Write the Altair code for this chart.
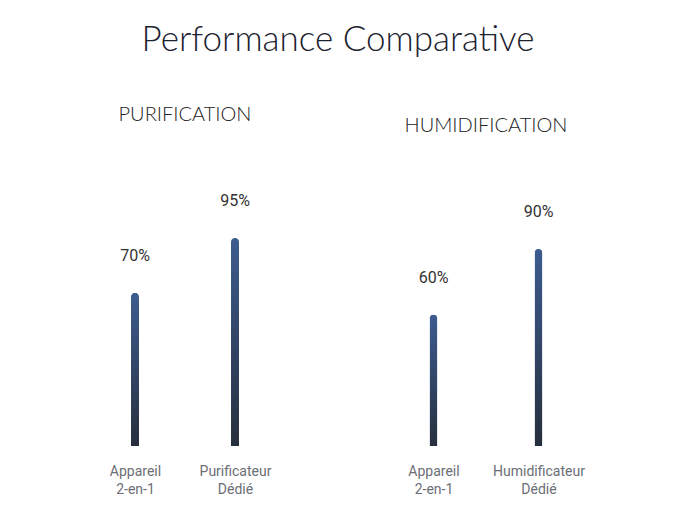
import altair as alt
import pandas as pd

groups = ["PURIFICATION", "PURIFICATION", "HUMIDIFICATION", "HUMIDIFICATION"]
devices = ["Appareil\n2-en-1", "Purificateur\nDédié", "Appareil\n2-en-1", "Humidificateur\nDédié"]
values = [70, 95, 60, 90]
value_labels = ["70%", "95%", "60%", "90%"]

df = pd.DataFrame({"group": groups, "device": devices, "value": values, "label": value_labels})

FONT = "Helvetica Neue, Roboto, Liberation Sans, sans-serif"
TITLE_FONT = "Lato, Roboto, sans-serif"

grad = alt.LinearGradient(
    gradient="linear",
    stops=[alt.GradientStop(offset=0, color="#3d5c90"), alt.GradientStop(offset=1, color="#262f3d")],
    x1=0, x2=0, y1=0, y2=1,
)


def panel(name, width, title_offset):
    d = df[df.group == name]
    base = alt.Chart(d).encode(
        x=alt.X(
            "device:N",
            sort=None,
            scale=alt.Scale(type="point", padding=0.5),
            axis=alt.Axis(
                title=None, domain=False, ticks=False, labelAngle=0,
                labelExpr='split(datum.label, "\\n")',
                labelFontSize=14, labelColor="#6b6e75", labelFont=FONT,
                labelPadding=18, labelLineHeight=18, labelOverlap=False,
            ),
        ),
        y=alt.Y("value:Q", scale=alt.Scale(domain=[0, 100]), axis=None),
    )
    bars = base.mark_bar(size=8, cornerRadiusTopLeft=4, cornerRadiusTopRight=4, color=grad)
    txt = base.mark_text(dy=-37, fontSize=16, color="#333333", font=FONT, baseline="middle").encode(text="label:N")
    return alt.layer(bars, txt).properties(
        width=width,
        height=219,
        title=alt.TitleParams(name, fontSize=20, font=TITLE_FONT, fontWeight=300, color="#222222",
                              offset=title_offset, anchor="middle"),
    )


chart = alt.hconcat(
    panel("PURIFICATION", 200, 68),
    panel("HUMIDIFICATION", 210, 68),
    spacing=96,
).properties(
    title=alt.TitleParams("Performance Comparative", fontSize=35, font=TITLE_FONT, fontWeight=300,
                          color="#1c2230", anchor="middle", offset=47),
    padding={"left": 77, "top": 14, "right": 5, "bottom": 5},
).configure_view(stroke=None)

chart.save("out.html", embed_options={"renderer": "svg", "actions": False})
